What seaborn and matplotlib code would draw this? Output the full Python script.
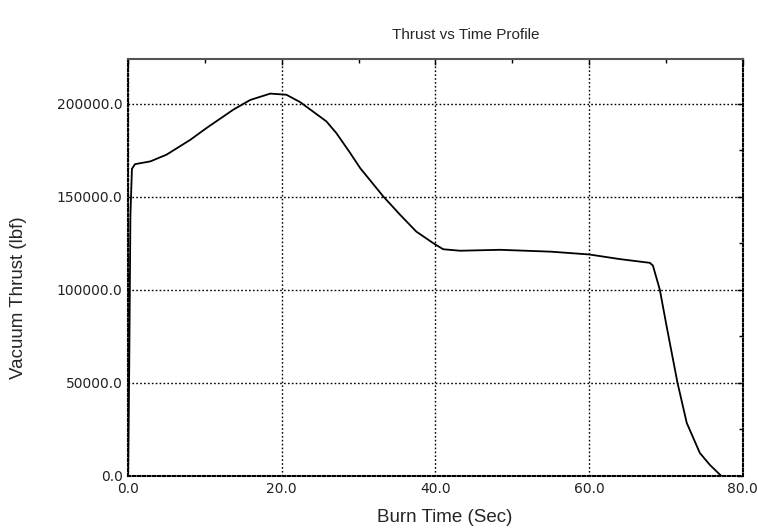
import numpy as np
import pandas as pd
import seaborn as sns
import matplotlib.pyplot as plt
from matplotlib.ticker import MultipleLocator, FormatStrFormatter

burn_time = [0.0, 0.15, 0.3, 0.5, 0.9, 2.9, 5.0, 8.1, 10.2, 13.7, 15.9, 18.5, 20.6,
             22.4, 25.8, 27.1, 28.9, 30.2, 33.2, 35.4, 37.5, 39.7, 41.0, 43.2, 48.4,
             55.0, 60.0, 64.0, 67.9, 68.3, 69.2, 70.1, 71.5, 72.7, 74.4, 75.7, 77.2]
thrust = [0.0, 60000.0, 140000.0, 165000.0, 167500.0, 169000.0, 172600.0, 180600.0, 186900.0,
          196800.0, 202000.0, 205400.0, 204800.0, 200800.0, 190500.0, 184200.0, 173500.0,
          165400.0, 150200.0, 140300.0, 131300.0, 125100.0, 121800.0, 121000.0, 121500.0,
          120500.0, 119000.0, 116500.0, 114500.0, 113000.0, 100000.0, 80000.0, 50000.0,
          28500.0, 12400.0, 6000.0, 0.0]

df = pd.DataFrame({"Burn Time (Sec)": burn_time, "Vacuum Thrust (lbf)": thrust})

sns.set_style("white")
plt.rcParams['font.family'] = ['Liberation Sans', 'DejaVu Sans']

fig = plt.figure(figsize=(7.58, 5.29), dpi=100)
ax = fig.add_axes([0.169, 0.1002, 0.811, 0.7883])

sns.lineplot(ax=ax, data=df, x="Burn Time (Sec)", y="Vacuum Thrust (lbf)",
             color="black", linewidth=1.3)

ax.set_xlim(0, 80)
ax.set_ylim(0, 224000)
ax.xaxis.set_major_locator(MultipleLocator(20))
ax.xaxis.set_minor_locator(MultipleLocator(10))
ax.yaxis.set_major_locator(MultipleLocator(50000))
ax.yaxis.set_minor_locator(MultipleLocator(25000))
ax.xaxis.set_major_formatter(FormatStrFormatter('%.1f'))
ax.yaxis.set_major_formatter(FormatStrFormatter('%.1f'))

ax.grid(True, which='major', color='black', linestyle=(0, (1.2, 1.6)), linewidth=1.0)
ax.tick_params(which='both', direction='in', length=4, width=1, colors='black',
               labelsize=10, top=True, right=True, pad=4)
ax.tick_params(which='minor', length=3)
for lbl in ax.get_xticklabels() + ax.get_yticklabels():
    lbl.set_family('DejaVu Sans')
    lbl.set_color('#222222')

for side in ['left', 'bottom', 'right']:
    ax.spines[side].set_linestyle((0, (1.2, 1.2)))
    ax.spines[side].set_linewidth(1.5)
    ax.spines[side].set_color('black')
ax.spines['top'].set_color('#555555')
ax.spines['top'].set_linewidth(1.5)

ax.set_xlabel("")
ax.set_ylabel("")
fig.text(466 / 758, 1 - 35 / 529, "Thrust vs Time Profile", fontsize=11,
         ha='center', va='center')
fig.text(445 / 758, 1 - 518 / 529, "Burn Time (Sec)", fontsize=13.5,
         ha='center', va='center')
fig.text(19 / 758, 1 - 298 / 529, "Vacuum Thrust (lbf)", fontsize=13.5,
         ha='center', va='center', rotation=90)

fig.savefig("out.png", dpi=100)
